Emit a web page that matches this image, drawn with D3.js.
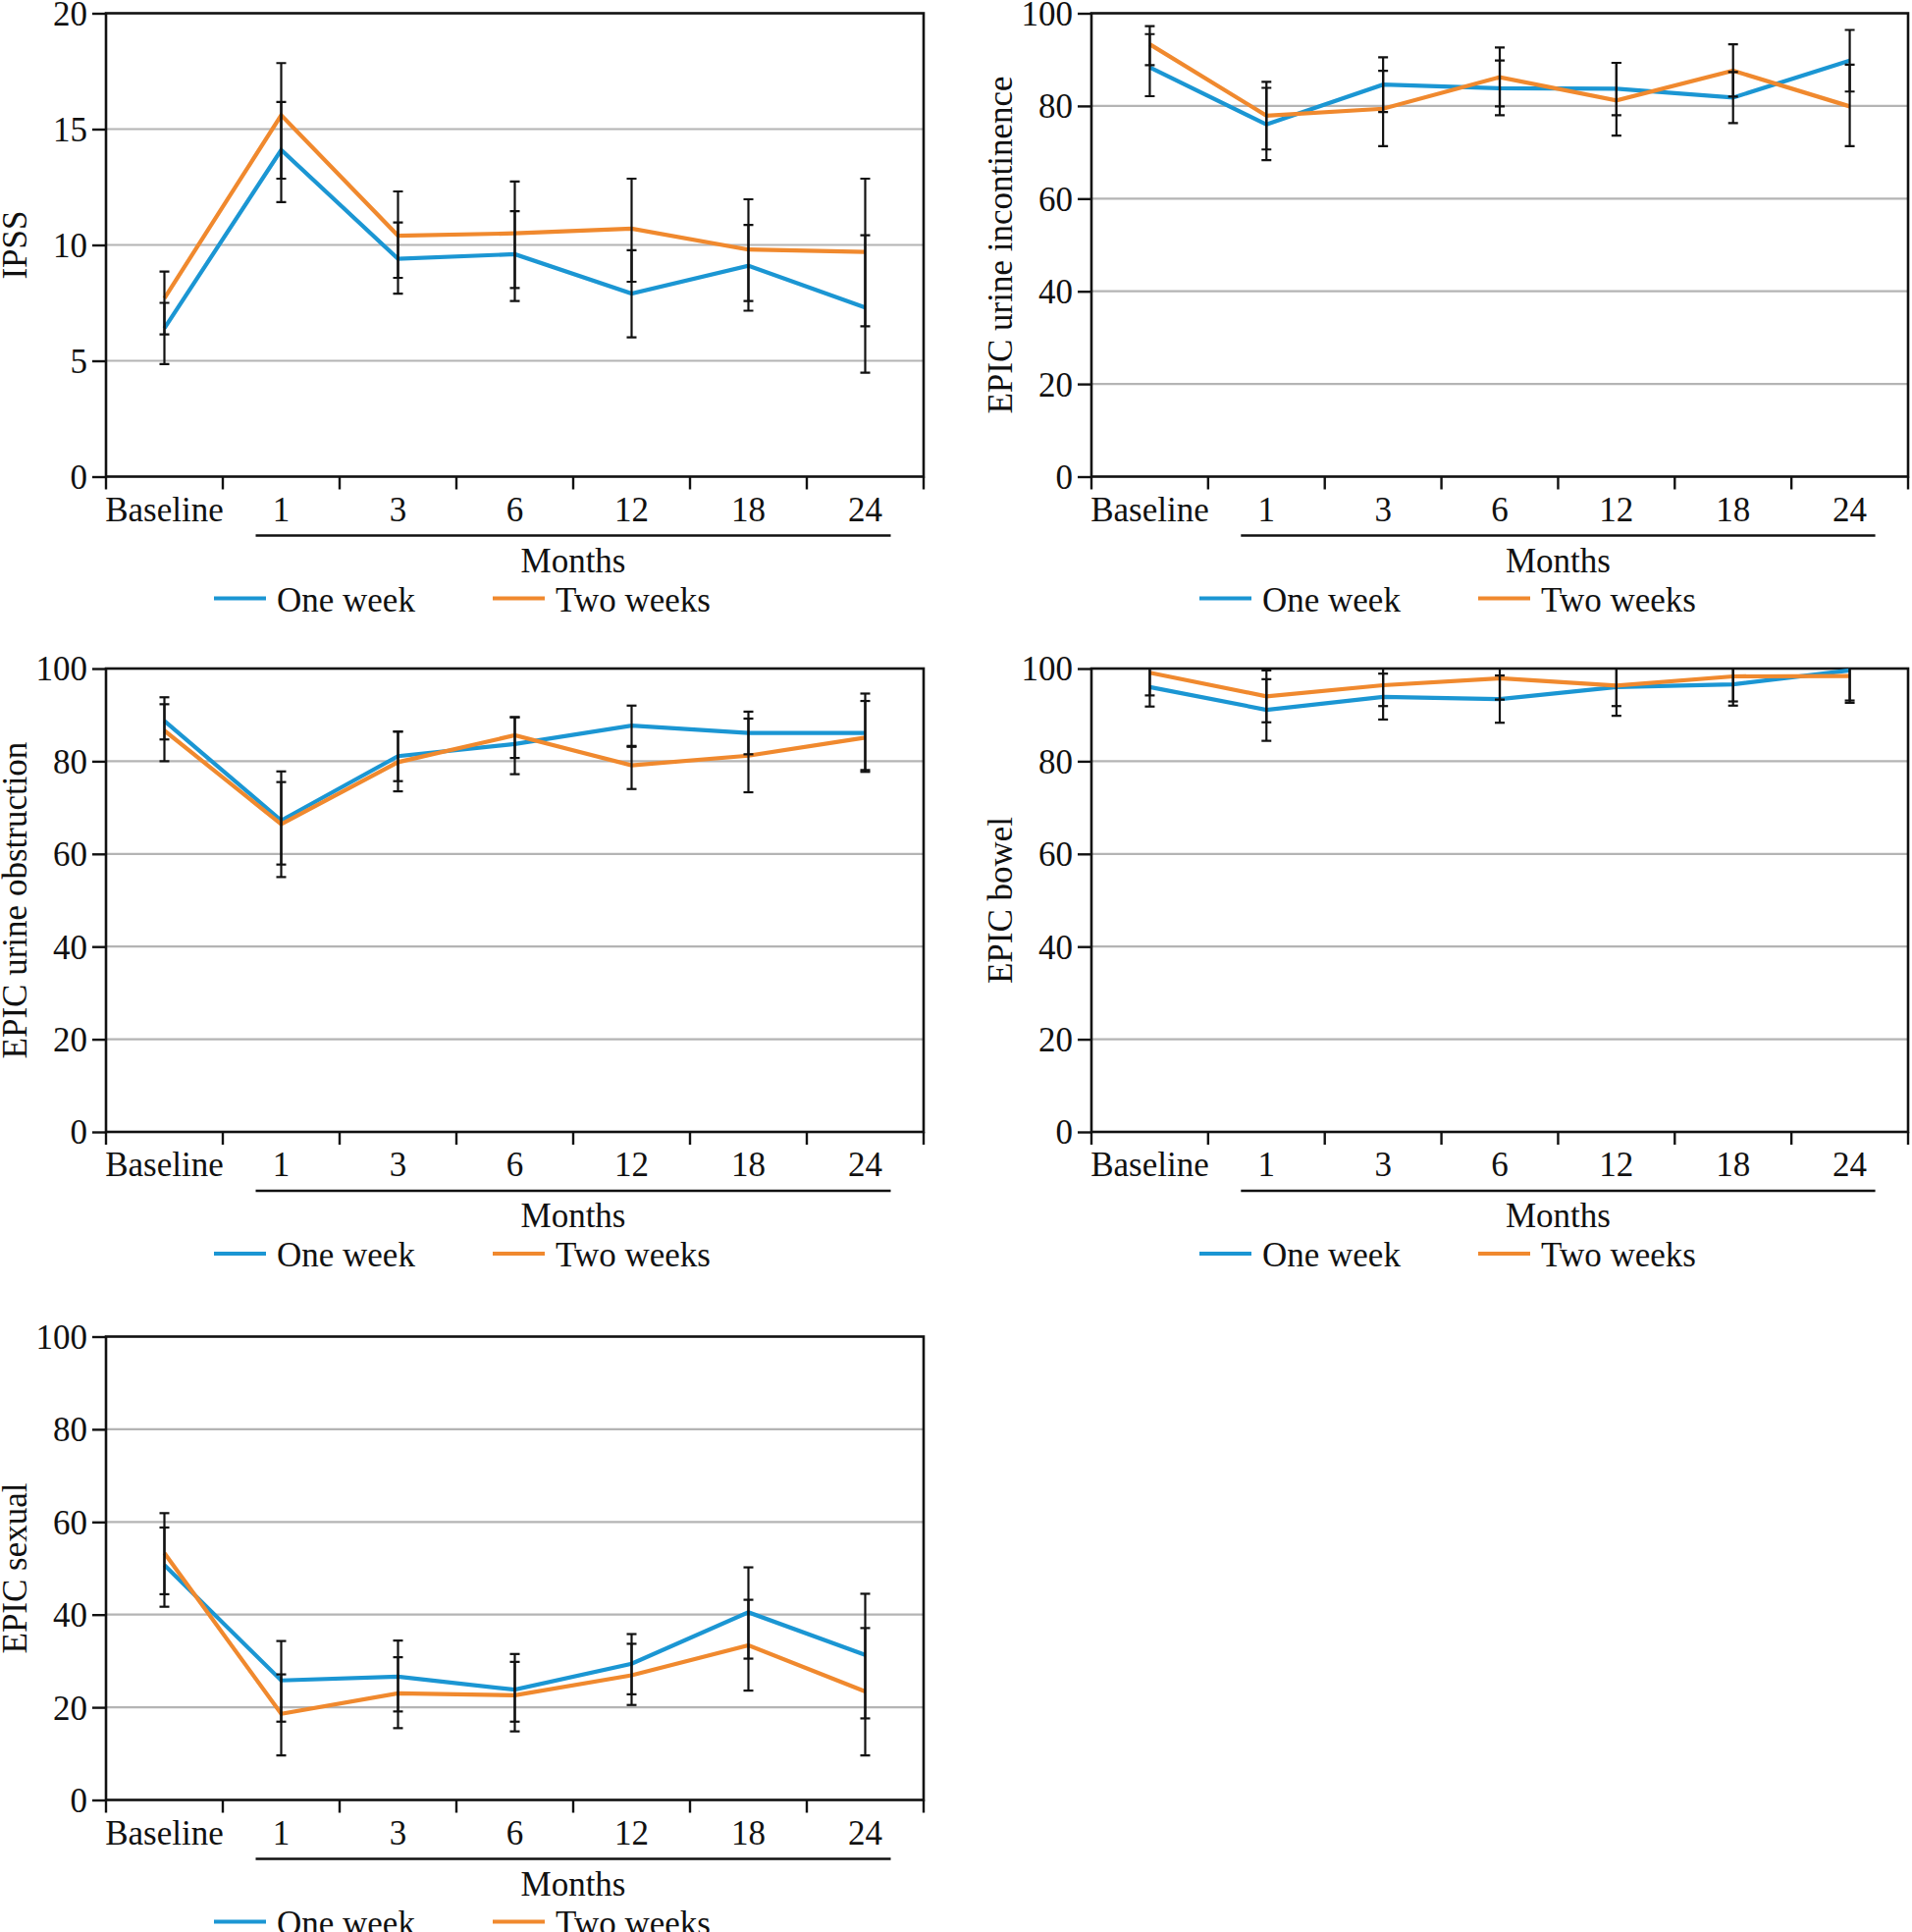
<!DOCTYPE html>
<html lang="en">
<head>
  <meta charset="UTF-8" />
  <title>IPSS and EPIC scores</title>
  <script src="https://d3js.org/d3.v7.min.js"></script>
  <style>
    body { margin: 0; background: #fff; }
    svg { display: block; font-family: "Liberation Serif", "Times New Roman", serif; }
    .grid line { stroke: #b4b4b4; stroke-width: 2.2px; }
    .frame { fill: none; stroke: #111; stroke-width: 2.6px; }
    .tick-lbl { font-size: 35px; fill: #111; font-family: "Liberation Serif", "Times New Roman", serif; }
    .err { stroke: #111; stroke-width: 2.2px; }
  </style>
</head>
<body>
  <svg width="1948" height="1968"></svg>

  <script>
    const months = ["Baseline", "1", "3", "6", "12", "18", "24"];
    const seriesNames = ["One week", "Two weeks"];
    const seriesColors = ["#1b96d3", "#f0892e"];

    // IPSS
    const ipssOne   = [6.4, 14.1, 9.4, 9.6, 7.9, 9.1, 7.3];
    const ipssTwo   = [7.7, 15.6, 10.4, 10.5, 10.7, 9.8, 9.7];
    const ipssOneLo = [4.86, 11.85, 7.90, 7.58, 6.01, 7.16, 4.49];
    const ipssOneHi = [7.50, 16.17, 10.97, 11.46, 9.77, 10.86, 10.42];
    const ipssTwoLo = [6.14, 12.86, 8.58, 8.14, 8.41, 7.58, 6.49];
    const ipssTwoHi = [8.85, 17.85, 12.31, 12.74, 12.86, 11.97, 12.86];

    // EPIC urine incontinence
    const incoOne   = [88.3, 76.0, 84.6, 83.8, 83.7, 81.8, 89.8];
    const incoTwo   = [93.3, 77.9, 79.4, 86.2, 81.2, 87.6, 79.9];
    const incoOneLo = [82.1, 68.3, 78.7, 78.0, 78.0, 76.3, 83.1];
    const incoOneHi = [95.5, 83.9, 90.5, 89.8, 89.3, 87.3, 96.4];
    const incoTwoLo = [88.8, 70.6, 71.3, 79.9, 73.6, 82.0, 71.3];
    const incoTwoHi = [97.2, 85.2, 87.6, 92.6, 89.3, 93.3, 88.9];

    // EPIC urine obstruction
    const obstOne   = [88.7, 67.2, 81.1, 83.7, 87.7, 86.1, 86.1];
    const obstTwo   = [86.6, 66.4, 79.8, 85.6, 79.1, 81.2, 85.1];
    const obstOneLo = [84.7, 57.7, 75.7, 77.2, 83.3, 81.5, 77.7];
    const obstOneHi = [92.3, 75.5, 86.4, 89.5, 92.0, 90.7, 94.6];
    const obstTwoLo = [80.0, 55.0, 73.5, 80.7, 74.0, 73.3, 78.1];
    const obstTwoHi = [93.8, 77.8, 86.4, 89.5, 83.1, 89.2, 93.0];

    // EPIC bowel
    const bowelOne   = [96.0, 91.1, 93.9, 93.4, 96.0, 96.6, 99.6];
    const bowelTwo   = [99.1, 94.0, 96.4, 97.9, 96.3, 98.3, 98.4];
    const bowelOneLo = [91.8, 84.4, 89.0, 88.3, 91.9, 92.0, 92.6];
    const bowelOneHi = [100.2, 97.7, 98.9, 98.5, 100.1, 101.2, 106.6];
    const bowelTwoLo = [94.2, 88.4, 91.9, 93.3, 89.8, 92.9, 93.1];
    const bowelTwoHi = [104.0, 99.6, 100.9, 102.5, 102.8, 103.7, 103.7];

    // EPIC sexual
    const sexOne   = [50.7, 25.8, 26.6, 23.8, 29.4, 40.5, 31.3];
    const sexTwo   = [53.3, 18.6, 23.0, 22.6, 26.9, 33.4, 23.4];
    const sexOneLo = [41.7, 16.9, 19.1, 16.9, 22.8, 30.5, 17.6];
    const sexOneHi = [58.8, 34.3, 34.4, 31.5, 35.8, 50.2, 44.5];
    const sexTwoLo = [44.4, 9.6, 15.5, 14.8, 20.5, 23.6, 9.6];
    const sexTwoHi = [61.9, 27.1, 30.8, 29.8, 33.7, 43.2, 37.1];

    const ipssTicks = [0, 5, 10, 15, 20];
    const epicTicks = [0, 20, 40, 60, 80, 100];

    const panels = [
      { label: "IPSS", max: 20, ticks: ipssTicks, col: 0, row: 0,
        vals: [ipssOne, ipssTwo], lo: [ipssOneLo, ipssTwoLo], hi: [ipssOneHi, ipssTwoHi] },
      { label: "EPIC urine incontinence", max: 100, ticks: epicTicks, col: 1, row: 0,
        vals: [incoOne, incoTwo], lo: [incoOneLo, incoTwoLo], hi: [incoOneHi, incoTwoHi] },
      { label: "EPIC urine obstruction", max: 100, ticks: epicTicks, col: 0, row: 1,
        vals: [obstOne, obstTwo], lo: [obstOneLo, obstTwoLo], hi: [obstOneHi, obstTwoHi] },
      { label: "EPIC bowel", max: 100, ticks: epicTicks, col: 1, row: 1,
        vals: [bowelOne, bowelTwo], lo: [bowelOneLo, bowelTwoLo], hi: [bowelOneHi, bowelTwoHi] },
      { label: "EPIC sexual", max: 100, ticks: epicTicks, col: 0, row: 2,
        vals: [sexOne, sexTwo], lo: [sexOneLo, sexTwoLo], hi: [sexOneHi, sexTwoHi] }
    ];

    const cols = [{ left: 108, right: 941 }, { left: 1112, right: 1944 }];
    const rowTops = [13.5, 681, 1361.5];
    const plotH = 472;

    const svg = d3.select("svg");

    panels.forEach((p, pi) => {
      const left = cols[p.col].left, right = cols[p.col].right;
      const top = rowTops[p.row], bottom = top + plotH;

      const x = d3.scaleBand().domain(months).range([left, right]);
      const y = d3.scaleLinear().domain([0, p.max]).range([bottom, top]);
      const g = svg.append("g");

      // gridlines
      g.append("g").attr("class", "grid")
        .selectAll("line")
        .data(p.ticks.filter(t => t > 0 && t < p.max))
        .join("line")
        .attr("x1", left).attr("x2", right)
        .attr("y1", d => y(d)).attr("y2", d => y(d));

      // y axis
      const yAxis = g.append("g")
        .attr("transform", `translate(${left},0)`)
        .call(d3.axisLeft(y).tickValues(p.ticks).tickSize(14).tickPadding(5));
      yAxis.attr("font-family", null).attr("font-size", null);
      yAxis.select(".domain").remove();
      yAxis.selectAll("line").attr("stroke", "#111").attr("stroke-width", 2.4);
      yAxis.selectAll("text").attr("class", "tick-lbl").attr("dy", "0.34em");

      // x ticks at band edges
      const edges = months.map(m => x(m)).concat([right]);
      g.append("g").selectAll("line")
        .data(edges)
        .join("line")
        .attr("x1", d => d).attr("x2", d => d)
        .attr("y1", bottom).attr("y2", bottom + 13)
        .attr("stroke", "#111").attr("stroke-width", 2.4);

      g.append("g").selectAll("text")
        .data(months)
        .join("text")
        .attr("class", "tick-lbl")
        .attr("x", d => x(d) + x.bandwidth() / 2)
        .attr("y", bottom + 45)
        .attr("text-anchor", "middle")
        .text(d => d);

      // frame
      g.append("rect").attr("class", "frame")
        .attr("x", left).attr("y", top)
        .attr("width", right - left).attr("height", plotH);

      // clip for error bars
      const clipId = "clip" + pi;
      svg.append("clipPath").attr("id", clipId)
        .append("rect").attr("x", left).attr("y", top)
        .attr("width", right - left).attr("height", plotH);

      const cx = i => x(months[i]) + x.bandwidth() / 2;

      // series lines
      const line = d3.line().x((d, i) => cx(i)).y(d => y(d));
      p.vals.forEach((vals, s) => {
        g.append("path")
          .datum(vals)
          .attr("d", line)
          .attr("fill", "none")
          .attr("stroke", seriesColors[s])
          .attr("stroke-width", 4.2)
          .attr("stroke-linejoin", "miter");
      });

      // error bars
      const eg = g.append("g").attr("clip-path", `url(#${clipId})`);
      p.vals.forEach((vals, s) => {
        const bars = vals.map((v, i) => ({ i, lo: p.lo[s][i], hi: p.hi[s][i] }));
        eg.append("g").selectAll("line")
          .data(bars)
          .join("line")
          .attr("class", "err")
          .attr("x1", d => cx(d.i)).attr("x2", d => cx(d.i))
          .attr("y1", d => y(d.lo)).attr("y2", d => y(d.hi));
        ["lo", "hi"].forEach(k => {
          eg.append("g").selectAll("line")
            .data(bars)
            .join("line")
            .attr("class", "err")
            .attr("x1", d => cx(d.i) - 5).attr("x2", d => cx(d.i) + 5)
            .attr("y1", d => y(d[k])).attr("y2", d => y(d[k]));
        });
      });

      // y label
      g.append("text")
        .attr("transform", `translate(${left - 81},${(top + bottom) / 2}) rotate(-90)`)
        .attr("text-anchor", "middle")
        .attr("font-size", 35)
        .attr("fill", "#111")
        .text(p.label);

      // "Months" bracket
      const mStart = cx(1) - 26, mEnd = cx(6) + 26;
      g.append("line")
        .attr("x1", mStart).attr("x2", mEnd)
        .attr("y1", bottom + 60).attr("y2", bottom + 60)
        .attr("stroke", "#111").attr("stroke-width", 2.6);
      g.append("text")
        .attr("x", (mStart + mEnd) / 2).attr("y", bottom + 97)
        .attr("text-anchor", "middle")
        .attr("font-size", 35).attr("fill", "#111")
        .text("Months");

      // legend
      const legX = [left + 110, left + 394];
      seriesNames.forEach((name, s) => {
        g.append("line")
          .attr("x1", legX[s]).attr("x2", legX[s] + 53)
          .attr("y1", bottom + 124).attr("y2", bottom + 124)
          .attr("stroke", seriesColors[s]).attr("stroke-width", 4.2);
        g.append("text")
          .attr("x", legX[s] + 64).attr("y", bottom + 137)
          .attr("font-size", 35).attr("fill", "#111")
          .text(name);
      });
    });
  </script>
</body>
</html>
